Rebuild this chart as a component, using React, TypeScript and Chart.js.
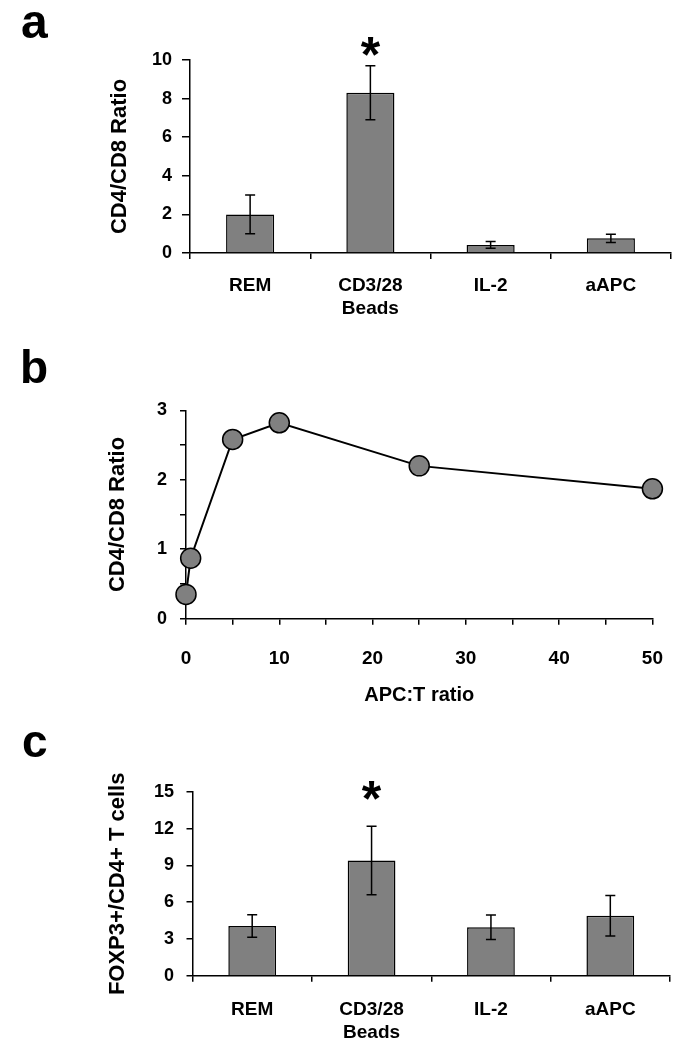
import React, { useEffect, useRef } from 'react';
import { Chart, registerables } from 'chart.js';

Chart.register(...registerables);

const FONT = "'Liberation Sans', Arial, Helvetica, sans-serif";

// ---- data ----
const treatmentLabels = [['REM'], ['CD3/28', 'Beads'], ['IL-2'], ['aAPC']];

const cd4cd8Means = [2.0, 8.3, 0.42, 0.76];
const cd4cd8Errors = [1.0, 1.4, 0.18, 0.21];
const cd4cd8Max = 10;
const cd4cd8Step = 2;
const cd4cd8StarAt = 10.7;

const apcToTRatios = [0, 0.5, 5, 10, 25, 50];
const apcCd4cd8 = [0.35, 0.87, 2.58, 2.82, 2.2, 1.87];

const foxp3Means = [4.05, 9.4, 3.95, 4.9];
const foxp3Errors = [0.92, 2.8, 1.0, 1.65];
const foxp3Max = 15;
const foxp3Step = 3;
const foxp3StarAt = 15.1;

const significantIndex = 1;

// ---- plugins ----
function errorBarPlugin(errors: number[]) {
  return {
    id: 'errorBars',
    afterDatasetsDraw(chart: any) {
      const ctx = chart.ctx;
      const meta = chart.getDatasetMeta(0);
      const yScale = chart.scales.y;
      const values = chart.data.datasets[0].data as number[];
      ctx.save();
      ctx.strokeStyle = '#000';
      ctx.lineWidth = 1.5;
      const cap = 5;
      meta.data.forEach((bar: any, i: number) => {
        const v = values[i];
        const e = errors[i];
        const yt = yScale.getPixelForValue(v + e);
        const yb = yScale.getPixelForValue(v - e);
        const x = bar.x;
        ctx.beginPath();
        ctx.moveTo(x, yt);
        ctx.lineTo(x, yb);
        ctx.moveTo(x - cap, yt);
        ctx.lineTo(x + cap, yt);
        ctx.moveTo(x - cap, yb);
        ctx.lineTo(x + cap, yb);
        ctx.stroke();
      });
      ctx.restore();
    },
  };
}

function starPlugin(index: number, value: number) {
  return {
    id: 'significance',
    afterDatasetsDraw(chart: any) {
      const ctx = chart.ctx;
      const bar = chart.getDatasetMeta(0).data[index];
      const y = chart.scales.y.getPixelForValue(value);
      ctx.save();
      ctx.fillStyle = '#000';
      ctx.font = `bold 50px ${FONT}`;
      ctx.textAlign = 'center';
      ctx.textBaseline = 'alphabetic';
      const m = ctx.measureText('*');
      const off = (m.actualBoundingBoxAscent - m.actualBoundingBoxDescent) / 2;
      ctx.fillText('*', bar.x, y + off);
      ctx.restore();
    },
  };
}

const tickFont = (size: number) => ({ family: FONT, size, weight: 'bold' as const, lineHeight: 1.22 });
const titleFont = { family: FONT, size: 22, weight: 'bold' as const, lineHeight: 1.2 };

function barConfig(p: any) {
  return {
    type: 'bar',
    data: {
      labels: treatmentLabels,
      datasets: [
        {
          data: p.values,
          backgroundColor: '#808080',
          borderColor: '#000',
          borderWidth: 1.5,
          barPercentage: 0.4,
          categoryPercentage: 1,
        },
      ],
    },
    options: {
      animation: false,
      responsive: false,
      events: [],
      layout: { padding: { left: p.padLeft, right: p.padRight, top: p.padTop, bottom: 0 } },
      plugins: { legend: { display: false }, tooltip: { enabled: false } },
      scales: {
        x: {
          grid: { drawOnChartArea: false, drawTicks: true, tickLength: 6, color: '#000', lineWidth: 1.5, offset: true },
          border: { display: true, color: '#000', width: 1.5 },
          ticks: { color: '#000', font: tickFont(19), padding: p.xPad, maxRotation: 0, autoSkip: false },
          afterFit: (s: any) => {
            s.height = p.xHeight;
          },
        },
        y: {
          min: 0,
          max: p.max,
          ticks: { stepSize: p.step, color: '#000', font: tickFont(18), padding: p.yPad },
          grid: { drawOnChartArea: false, drawTicks: true, tickLength: p.yTick, color: '#000', lineWidth: 1.5 },
          border: { display: true, color: '#000', width: 1.5 },
          title: { display: true, text: p.title, color: '#000', font: titleFont, padding: { top: p.titlePad, bottom: 0 } },
          afterFit: (s: any) => {
            s.width = p.yWidth;
          },
        },
      },
    },
    plugins: [errorBarPlugin(p.errors), starPlugin(significantIndex, p.starAt)],
  };
}

function lineConfig() {
  return {
    type: 'scatter',
    data: {
      datasets: [
        {
          data: apcToTRatios.map((x, i) => ({ x, y: apcCd4cd8[i] })),
          showLine: true,
          borderColor: '#000',
          borderWidth: 2,
          pointRadius: 10,
          pointBackgroundColor: '#808080',
          pointBorderColor: '#000',
          pointBorderWidth: 1.5,
          tension: 0,
          clip: false,
        },
      ],
    },
    options: {
      animation: false,
      responsive: false,
      events: [],
      layout: { padding: { left: 96, right: 29.5, top: 75.3, bottom: 0 } },
      plugins: { legend: { display: false }, tooltip: { enabled: false } },
      scales: {
        x: {
          type: 'linear',
          min: 0,
          max: 50,
          grid: { drawOnChartArea: false, drawTicks: true, tickLength: 6, color: '#000', lineWidth: 1.5 },
          border: { display: true, color: '#000', width: 1.5 },
          ticks: {
            stepSize: 5,
            color: '#000',
            font: tickFont(19),
            padding: 22,
            maxRotation: 0,
            autoSkip: false,
            callback: (v: any) => (Number(v) % 10 === 0 ? String(v) : ''),
          },
          title: { display: true, text: 'APC:T ratio', color: '#000', font: { family: FONT, size: 20, weight: 'bold', lineHeight: 1.2 }, padding: { top: 0, bottom: 8 } },
          afterFit: (s: any) => {
            s.height = 96.3;
          },
        },
        y: {
          min: 0,
          max: 3,
          ticks: {
            stepSize: 0.5,
            color: '#000',
            font: tickFont(18),
            padding: 13,
            autoSkip: false,
            callback: (v: any) => (Number.isInteger(Number(v)) ? String(v) : ''),
          },
          grid: { drawOnChartArea: false, drawTicks: true, tickLength: 6, color: '#000', lineWidth: 1.5 },
          border: { display: true, color: '#000', width: 1.5 },
          title: { display: true, text: 'CD4/CD8 Ratio', color: '#000', font: titleFont, padding: { top: 9, bottom: 0 } },
          afterFit: (s: any) => {
            s.width = 90;
          },
        },
      },
    },
  };
}

function ChartPanel({ top, height, build }: { top: number; height: number; build: () => any }) {
  const ref = useRef<HTMLCanvasElement | null>(null);
  useEffect(() => {
    if (!ref.current) return;
    const chart = new Chart(ref.current, build());
    return () => chart.destroy();
  }, []);
  return (
    <canvas
      ref={ref}
      width={685}
      height={height}
      style={{ position: 'absolute', left: 0, top, width: 685, height, display: 'block' }}
    />
  );
}

const letterStyle = (left: number, top: number, size: number): React.CSSProperties => ({
  position: 'absolute',
  left,
  top,
  fontFamily: FONT,
  fontWeight: 'bold',
  fontSize: size,
  lineHeight: `${size}px`,
  color: '#000',
});

export default function App() {
  return (
    <div style={{ position: 'absolute', left: 0, top: 0, width: 685, height: 1049, background: '#fff', overflow: 'hidden' }}>
      <ChartPanel
        top={0}
        height={335}
        build={() =>
          barConfig({
            values: cd4cd8Means,
            errors: cd4cd8Errors,
            max: cd4cd8Max,
            step: cd4cd8Step,
            starAt: cd4cd8StarAt,
            title: 'CD4/CD8 Ratio',
            padLeft: 98,
            padRight: 14,
            padTop: 60,
            xHeight: 82,
            xPad: 15,
            yPad: 10,
            yTick: 8,
            yWidth: 92,
            titlePad: 9,
          })
        }
      />
      <ChartPanel top={335} height={380} build={lineConfig} />
      <ChartPanel
        top={715}
        height={334}
        build={() =>
          barConfig({
            values: foxp3Means,
            errors: foxp3Errors,
            max: foxp3Max,
            step: foxp3Step,
            starAt: foxp3StarAt,
            title: 'FOXP3+/CD4+ T cells',
            padLeft: 96,
            padRight: 15,
            padTop: 77,
            xHeight: 73.3,
            xPad: 16,
            yPad: 12.5,
            yTick: 6,
            yWidth: 96.5,
            titlePad: 9,
          })
        }
      />
      <div style={letterStyle(21, -2, 48)}>a</div>
      <div style={letterStyle(20, 344, 46)}>b</div>
      <div style={letterStyle(22, 718, 46)}>c</div>
    </div>
  );
}
